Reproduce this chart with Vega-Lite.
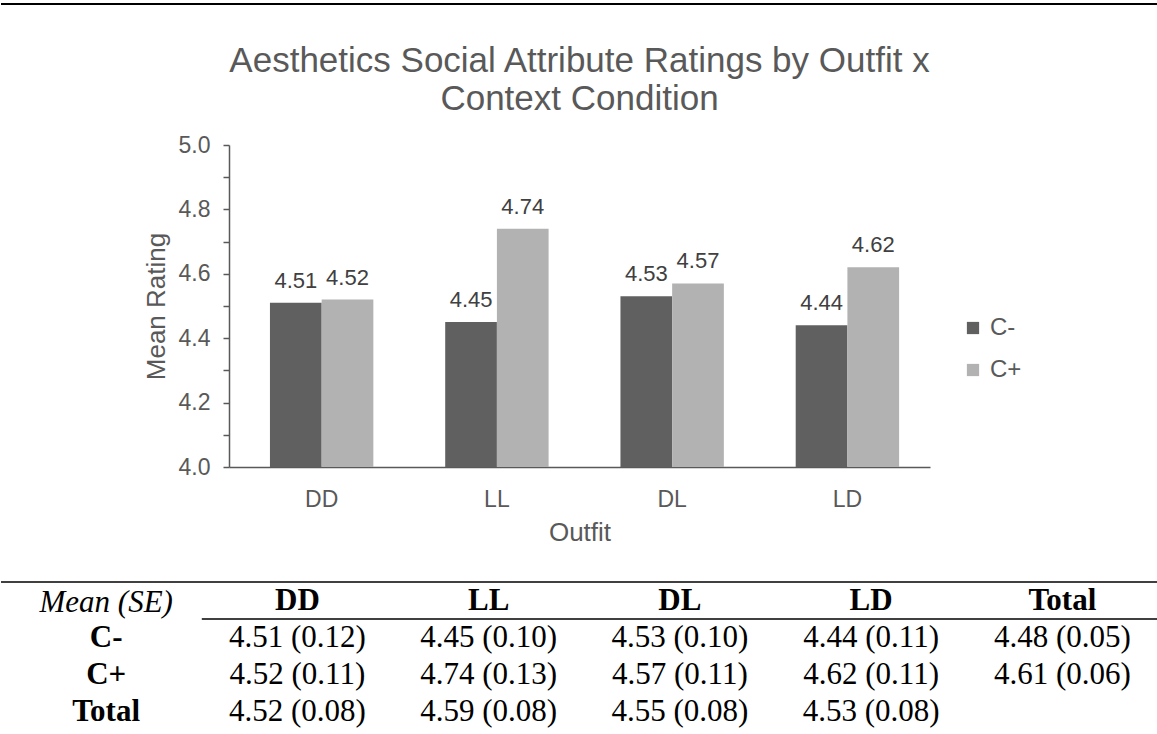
{
  "$schema": "https://vega.github.io/schema/vega-lite/v6.json",
  "padding": {"left": 0, "top": 3, "right": 0, "bottom": 0},
  "background": "white",
  "config": {
    "view": {"stroke": null},
    "font": "Liberation Sans"
  },
  "datasets": {
    "bars": [
      {"outfit": "DD", "condition": "C-", "mean": 4.51},
      {"outfit": "DD", "condition": "C+", "mean": 4.52},
      {"outfit": "LL", "condition": "C-", "mean": 4.45},
      {"outfit": "LL", "condition": "C+", "mean": 4.74},
      {"outfit": "DL", "condition": "C-", "mean": 4.53},
      {"outfit": "DL", "condition": "C+", "mean": 4.57},
      {"outfit": "LD", "condition": "C-", "mean": 4.44},
      {"outfit": "LD", "condition": "C+", "mean": 4.62}
    ],
    "table": [
      {"row": "head", "col": "stub", "text": "Mean (SE)"},
      {"row": "head", "col": "DD", "text": "DD"},
      {"row": "head", "col": "LL", "text": "LL"},
      {"row": "head", "col": "DL", "text": "DL"},
      {"row": "head", "col": "LD", "text": "LD"},
      {"row": "head", "col": "Total", "text": "Total"},
      {"row": "C-", "col": "stub", "text": "C-"},
      {"row": "C-", "col": "DD", "text": "4.51 (0.12)"},
      {"row": "C-", "col": "LL", "text": "4.45 (0.10)"},
      {"row": "C-", "col": "DL", "text": "4.53 (0.10)"},
      {"row": "C-", "col": "LD", "text": "4.44 (0.11)"},
      {"row": "C-", "col": "Total", "text": "4.48 (0.05)"},
      {"row": "C+", "col": "stub", "text": "C+"},
      {"row": "C+", "col": "DD", "text": "4.52 (0.11)"},
      {"row": "C+", "col": "LL", "text": "4.74 (0.13)"},
      {"row": "C+", "col": "DL", "text": "4.57 (0.11)"},
      {"row": "C+", "col": "LD", "text": "4.62 (0.11)"},
      {"row": "C+", "col": "Total", "text": "4.61 (0.06)"},
      {"row": "Total", "col": "stub", "text": "Total"},
      {"row": "Total", "col": "DD", "text": "4.52 (0.08)"},
      {"row": "Total", "col": "LL", "text": "4.59 (0.08)"},
      {"row": "Total", "col": "DL", "text": "4.55 (0.08)"},
      {"row": "Total", "col": "LD", "text": "4.53 (0.08)"}
    ]
  },
  "bounds": "flush",
  "center": true,
  "spacing": 115,
  "vconcat": [
    {
      "width": 1157,
      "height": 26,
      "data": {"values": [{"k": "top"}]},
      "mark": {"type": "rule", "color": "black", "strokeWidth": 2},
      "encoding": {
        "y": {"field": "k", "type": "nominal", "axis": null, "bandPosition": 0,
              "scale": {"type": "band", "paddingInner": 0, "paddingOuter": 0}}
      }
    },
    {
      "width": 701,
      "height": 322,
      "title": {
        "text": ["Aesthetics Social Attribute Ratings by Outfit x", "Context Condition"],
        "fontSize": 35,
        "fontWeight": "normal",
        "color": "#595959",
        "anchor": "middle",
        "offset": 17,
        "lineHeight": 38
      },
      "data": {"name": "bars"},
      "encoding": {
        "x": {
          "field": "outfit", "type": "nominal", "sort": ["DD", "LL", "DL", "LD"],
          "scale": {"paddingInner": 0.41, "paddingOuter": 0.205, "align": 0.57},
          "axis": {
            "title": "Outfit", "labelAngle": 0, "ticks": false, "tickSize": 0,
            "domainColor": "#595959", "domainWidth": 1.5,
            "labelFontSize": 23, "labelColor": "#595959", "labelPadding": 21,
            "titleFontSize": 26, "titleFontWeight": "normal", "titleColor": "#595959", "titlePadding": 8
          }
        },
        "xOffset": {"field": "condition", "type": "nominal", "sort": ["C-", "C+"]},
        "y": {
          "field": "mean", "type": "quantitative",
          "scale": {"domain": [4, 5], "nice": false, "zero": false},
          "axis": {
            "title": "Mean Rating",
            "values": [4, 4.1, 4.2, 4.3, 4.4, 4.5, 4.6, 4.7, 4.8, 4.9, 5],
            "labelExpr": "round(datum.value * 10) % 2 == 0 ? format(datum.value, '.1f') : ''",
            "labelOverlap": false, "labelFlush": false,
            "grid": false, "tickSize": 6, "tickColor": "#595959", "tickWidth": 1.5,
            "domainColor": "#595959", "domainWidth": 1.5,
            "labelFontSize": 23, "labelColor": "#595959", "labelPadding": 13,
            "titleFontSize": 26, "titleFontWeight": "normal", "titleColor": "#595959", "titlePadding": 9
          }
        }
      },
      "layer": [
        {
          "mark": {"type": "bar"},
          "encoding": {
            "y2": {"datum": 4},
            "color": {
              "field": "condition", "type": "nominal",
              "scale": {"domain": ["C-", "C+"], "range": ["#606060", "#b2b2b2"]},
              "legend": {
                "title": null, "orient": "none", "legendX": 960, "legendY": 312,
                "symbolType": "square", "symbolSize": 150, "symbolStrokeWidth": 0,
                "labelFontSize": 24, "labelColor": "#595959", "rowPadding": 18,
                "labelOffset": 5, "padding": 0
              }
            }
          }
        },
        {
          "mark": {"type": "text", "fontSize": 22, "color": "#404040", "baseline": "alphabetic", "dy": -15},
          "encoding": {"text": {"field": "mean", "type": "quantitative", "format": ".2f"}}
        }
      ]
    },
    {
      "width": 1157,
      "height": 148,
      "data": {"name": "table"},
      "layer": [
        {
          "transform": [{"filter": "datum.row == 'head' && datum.col == 'stub'"}],
          "mark": {"type": "text", "font": "Liberation Serif", "fontSize": 31, "fontStyle": "italic", "color": "black", "dy": 2},
          "encoding": {
            "x": {"field": "col", "type": "nominal", "axis": null,
                  "scale": {"type": "band", "domain": ["stub", "DD", "LL", "DL", "LD", "Total"], "paddingInner": 0, "paddingOuter": 0.025, "align": 1}},
            "y": {"field": "row", "type": "nominal", "axis": null,
                  "scale": {"type": "band", "domain": ["head", "C-", "C+", "Total"], "paddingInner": 0, "paddingOuter": 0}},
            "text": {"field": "text"}
          }
        },
        {
          "transform": [{"filter": "(datum.row == 'head') != (datum.col == 'stub')"}],
          "mark": {"type": "text", "font": "Liberation Serif", "fontSize": 31, "fontWeight": "bold", "color": "black"},
          "encoding": {
            "x": {"field": "col", "type": "nominal", "axis": null},
            "y": {"field": "row", "type": "nominal", "axis": null},
            "text": {"field": "text"}
          }
        },
        {
          "transform": [{"filter": "datum.row != 'head' && datum.col != 'stub'"}],
          "mark": {"type": "text", "font": "Liberation Serif", "fontSize": 31, "color": "black"},
          "encoding": {
            "x": {"field": "col", "type": "nominal", "axis": null},
            "y": {"field": "row", "type": "nominal", "axis": null},
            "text": {"field": "text"}
          }
        },
        {
          "data": {"values": [{"line": "top"}]},
          "mark": {"type": "rule", "color": "black", "strokeWidth": 1.5},
          "encoding": {
            "y": {"datum": "head", "type": "nominal", "bandPosition": 0}
          }
        },
        {
          "data": {"values": [{"line": "under"}]},
          "mark": {"type": "rule", "color": "black", "strokeWidth": 1.5},
          "encoding": {
            "y": {"datum": "head", "type": "nominal", "bandPosition": 1},
            "x": {"datum": "DD", "type": "nominal", "bandPosition": 0},
            "x2": {"datum": "Total", "bandPosition": 1}
          }
        }
      ]
    }
  ]
}
